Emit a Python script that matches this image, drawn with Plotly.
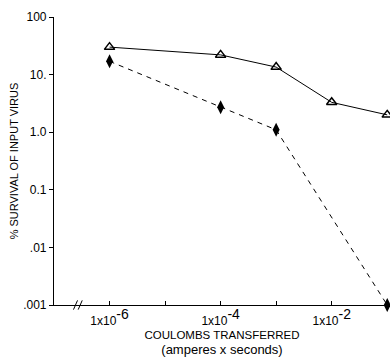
import plotly.graph_objects as go

coulombs = [1e-6, 1e-4, 1e-3, 1e-2, 1e-1]
survival_open = [30, 22, 13.5, 3.3, 2.0]
survival_filled = [17, 2.7, 1.1, 0.001]
coulombs_filled = [1e-6, 1e-4, 1e-3, 1e-1]

x_tickvals = [1e-6, 1e-5, 1e-4, 1e-3, 1e-2, 1e-1]
x_ticktext = ["1x10<sup><span style='font-size:14px'>-6</span></sup>", "",
              "1x10<sup><span style='font-size:14px'>-4</span></sup>", "",
              "1x10<sup><span style='font-size:14px'>-2</span></sup>", ""]
y_tickvals = [100, 10, 1, 0.1, 0.01, 0.001]
y_ticktext = ["100", "10.", "1.0", "0.1", ".01", ".001"]

FONT = "Liberation Sans"

fig = go.Figure()
fig.add_trace(go.Scatter(
    x=coulombs, y=survival_open, mode="lines+markers",
    line=dict(color="black", width=1),
    marker=dict(symbol="triangle-up-open", size=9, color="black", line=dict(width=1.5)),
    cliponaxis=False, showlegend=False))
fig.add_trace(go.Scatter(
    x=coulombs_filled, y=survival_filled, mode="lines+markers",
    line=dict(color="black", width=1, dash="5px,5px"),
    marker=dict(symbol="diamond-tall", size=10, color="black"),
    cliponaxis=False, showlegend=False))

fig.update_layout(
    width=390, height=357,
    margin=dict(l=54, r=0, t=17, b=52),
    paper_bgcolor="white", plot_bgcolor="white",
    font=dict(family=FONT, size=11, color="black"),
    xaxis=dict(type="log", range=[-7, -0.95], showgrid=False, zeroline=False,
               showline=True, linecolor="black", linewidth=1.2,
               tickmode="array", tickvals=x_tickvals, ticktext=x_ticktext,
               ticks="inside", ticklen=4, tickcolor="black", ticklabelstandoff=4,
               tickfont=dict(family=FONT, size=12),
               title=dict(text="COULOMBS TRANSFERRED<br><span style='font-size:13px'>(amperes x seconds)</span>",
                          font=dict(family=FONT, size=11.5), standoff=5)),
    yaxis=dict(type="log", range=[-3, 2], showgrid=False, zeroline=False,
               showline=True, linecolor="black", linewidth=1.2,
               tickmode="array", tickvals=y_tickvals, ticktext=y_ticktext,
               ticks="outside", ticklen=4, tickcolor="black",
               tickfont=dict(family=FONT, size=12),
               title=dict(text="% SURVIVAL OF INPUT VIRUS", font=dict(family=FONT, size=11), standoff=2)),
)

# axis break marks
for dx in (0.0, 0.014):
    fig.add_shape(type="line", xref="paper", yref="paper",
                  x0=0.058 + dx, x1=0.07 + dx, y0=-0.016, y1=0.016,
                  line=dict(color="black", width=1))

fig.write_html("out.html")
